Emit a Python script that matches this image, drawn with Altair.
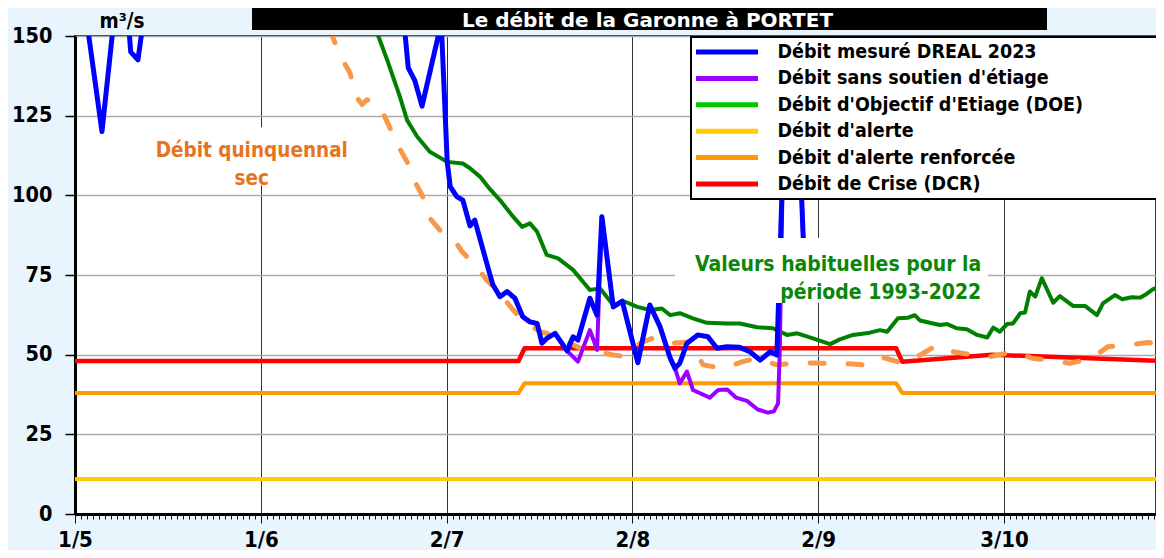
import json
import altair as alt
import pandas as pd

FONT = "DejaVu Sans Condensed, DejaVu Sans"

# ---------------- axis / categories ----------------
# x positions are days counted from 1 May 2023
tick_days = [0, 31, 62, 93, 124, 155]
tick_labels = ["1/5", "1/6", "2/7", "2/8", "2/9", "3/10"]
x_domain = [0, 180.35]
y_ticks = [0, 25, 50, 75, 100, 125, 150]

series_names = [
    "Débit mesuré DREAL 2023",
    "Débit sans soutien d'étiage",
    "Débit d'Objectif d'Etiage (DOE)",
    "Débit d'alerte",
    "Débit d'alerte renforcée",
    "Débit de Crise (DCR)",
]
legend_colors = ["#0000FF", "#9900FF", "#00C800", "#FFCC00", "#FF9900", "#FF0000"]

# ---------------- series ----------------
mesure_days = [0.0, 2.3, 4.5, 6.2, 7.5, 9.0, 9.3, 10.5, 11.2, 12.5, 17.5, 25.9, 37.5, 47.5, 54.2,
               55.1, 55.6, 56.7, 57.9, 60.6, 60.9, 61.2, 62.1, 62.6, 63.7, 64.7, 65.9, 66.7, 68.4,
               69.7, 70.9, 72.1, 73.4, 74.7, 75.9, 77.1, 77.9, 78.7, 80.1, 82.1, 83.1, 83.9, 85.9,
               87.1, 87.9, 89.8, 91.3, 93.9, 95.9, 97.6, 99.3, 100.1, 100.9, 102.1, 103.9, 105.6,
               107.1, 108.8, 110.9, 112.6, 114.3, 116.0, 117.1, 118.1, 118.6, 120.5, 121.0, 121.5]
mesure_vals = [185, 150, 120, 150, 168, 152, 145, 142.5, 152, 172, 200, 215, 195, 175, 160,
               150, 140, 136, 128, 150, 153, 150, 110.5, 102.7, 99.6, 98.5, 90.4, 92.2, 80.7,
               72, 68.2, 69.8, 67.7, 61.9, 60.3, 59.8, 53.6, 55.1, 56.7, 51.2, 55.6, 54.6, 67.7,
               62.4, 93.3, 65, 66.8, 47.5, 65.6, 58.8, 48.9, 45.7, 47.3, 53.6, 56.2, 55.6,
               52, 52.5, 52.3, 50.9, 48.3, 50.9, 49.9, 110, 165, 170, 110, 86.5]

sans_soutien_days = [80.1, 82.1, 83.9, 85.9, 87.1, 87.9, 89.8, 91.3, 93.9, 95.9, 97.6, 99.3, 100.1,
                     100.9, 102.1, 103.1, 105.9, 107.3, 108.8, 110.3, 112.1, 113.9, 115.6, 116.6,
                     117.3, 117.6, 118.1, 118.6, 120.5, 121.0, 121.5]
sans_soutien_vals = [56.7, 51.2, 47.8, 57.7, 51.5, 93.3, 65, 66.8, 47.5, 65.6, 58.8, 48.9, 45.7,
                     41, 44.7, 38.9, 36.5, 38.9, 39.1, 36.5, 35.5, 32.8, 31.8, 32.2,
                     34.7, 52.5, 110, 165, 170, 110, 86.5]

doe_days = [0, 20.9, 37.5, 45.9, 49.2, 50.6, 52.1, 54.2, 55.4, 57.1, 59.2, 62.1, 64.7, 65.9, 67.6,
            69.2, 70.9, 73.1, 74.6, 75.9, 77.1, 78.7, 80.6, 83.1, 85.9, 87.6, 89.8, 91.8, 93.8,
            95.9, 97.9, 99.3, 100.9, 103.1, 105.4, 108.8, 110.9, 113.8, 116.4, 118.8, 120.5,
            123.1, 126.0, 127.6, 129.8, 132.6, 134.3, 135.5, 137.3, 139.0, 140.1, 141.0, 142.6,
            144.3, 145.5, 147.1, 148.8, 150.5, 152.2, 153.2, 154.3, 155.5, 156.5, 157.7, 158.5,
            159.3, 160.2, 161.3, 163.2, 164.3, 166.5, 168.5, 170.5, 171.5, 173.5, 174.7, 176.3,
            177.7, 178.5, 179.8, 181.0, 182.7]
doe_vals = [260, 210, 180, 162, 155, 150, 142.4, 131, 123.6, 118.4, 113.7, 110.5, 110, 108.5, 105.8,
            102, 98.5, 93.3, 90.1, 91.2, 88.6, 81.3, 80.2, 76.6, 70.3, 70.8, 65.6, 66.6, 65,
            64, 64.5, 62.4, 63, 61.4, 60, 59.8, 59.8, 58.6, 58.3, 56.2, 56.7,
            55.1, 53.3, 54.8, 56.2, 56.9, 57.7, 57.2, 61.4, 61.6, 62.4, 60.7, 60,
            59.3, 59.6, 58.3, 58, 56.2, 55.4, 58.5, 57.2, 59.6, 59.8, 63, 63.2,
            69.8, 68.2, 74, 66.3, 68.4, 65.3, 65.3, 62.4, 66.1, 68.7, 67.4, 68,
            67.9, 68.7, 70.5, 71.5, 70.8]

alerte_days = [0, 182.7]
alerte_vals = [11, 11]

renforcee_days = [0, 74, 75, 137, 138, 182.7]
renforcee_vals = [38, 38, 41, 41, 38, 38]

crise_days = [0, 74, 75, 137, 138, 153, 182.7]
crise_vals = [48, 48, 52, 52, 47.8, 50, 47.9]

quinq_days = [42.5, 44.2, 45.9, 46.9, 47.9, 48.7, 50.9, 52.2, 53.7, 55.4, 56.4, 57.9, 59.2, 60.9,
              63.1, 64.6, 67.1, 68.7, 70.9, 73.1, 75.4, 77.6, 79.7, 82.1, 84.3, 87.1, 89.8, 91.8,
              94.3, 96.8, 99.6, 102.6, 104.8, 108.1, 111.4, 113.8, 117.1, 121.0, 124.3, 127.6,
              131.5, 134.3, 138.1, 141.0, 143.8, 146.5, 149.8, 152.7, 156.5, 159.7, 162.7, 166.0,
              169.7, 172.3, 175.7, 179.0, 182.7]
quinq_vals = [152, 144, 138.3, 131, 128.5, 130, 127.8, 122.6, 116.3, 110.5, 105.3, 100.1, 92.8, 89,
              86.5, 82.3, 77.3, 73.4, 69.2, 64, 59.8, 57.2, 56.2, 54.1, 52, 50.9, 49.9, 49.4,
              53.6, 55.5, 53.6, 54, 46.8, 45.7, 47.8, 48.9, 46.8, 47.5, 47.3, 47.3,
              46.8, 49.4, 47.3, 49.9, 53, 50.9, 49.9, 49.4, 50.9, 48.9, 48.3, 47.3,
              48.9, 52.5, 53, 53.8, 53]

# ---------------- annotations ----------------
title_text = "Le débit de la Garonne à PORTET"
note1_text = "Débit quinquennal\nsec"
note1_day, note1_val = 29.5, 112.0
note2_text = "Valeurs habituelles pour la\npériode 1993-2022"
note2_day, note2_val = 151.2, 76.2
box_day0 = [11.7, 100.1]
box_day1 = [47.2, 152.3]
box_val0 = [121.4, 86.6]
box_val1 = [103.2, 66.2]

# ---------------- encodings ----------------
month_days = json.dumps(tick_days)
is_month = f"indexof({month_days}, datum.value) >= 0"
label_expr = f"{is_month} ? {json.dumps(tick_labels)}[indexof({month_days}, datum.value)] : ''"

x_scale = alt.Scale(domain=x_domain, nice=False, zero=False)
y_scale = alt.Scale(domain=[0, 150], nice=False, zero=False)

x_axis = alt.Axis(
    values=list(range(0, 181)), labelExpr=label_expr, labelOverlap=False, labelFlush=False,
    title=None, labelFont=FONT, labelFontSize=22, labelFontWeight="bold", labelColor="black",
    labelBaseline="alphabetic", labelPadding=23,
    tickSize={"condition": {"test": is_month, "value": 9}, "value": 5},
    tickColor="#111111", tickWidth=1,
    grid=True, gridColor="#333333", gridWidth=1,
    gridOpacity={"condition": {"test": is_month, "value": 1}, "value": 0},
    domainColor="black", domainWidth=3,
)
y_axis = alt.Axis(
    values=y_ticks, title="m³/s", titleAngle=0, titleX=46.5, titleY=-9, titleAlign="center",
    titleBaseline="alphabetic", titleFont=FONT, titleFontSize=20.5, titleFontWeight="bold",
    titleColor="black", labelFont=FONT, labelFontSize=21.5, labelFontWeight="bold",
    labelColor="black", labelPadding=13, tickSize=10, tickColor="black", tickWidth=1.5,
    domainColor="black", domainWidth=3, grid=True, gridColor="#ABABAB", gridWidth=1.5,
)

X = alt.X("day:Q", scale=x_scale, axis=x_axis)
Y = alt.Y("value:Q", scale=y_scale, axis=y_axis)


def line_layer(days, vals, color, width, dash=None):
    df = pd.DataFrame({"day": days, "value": vals})
    kw = dict(color=color, strokeWidth=width, clip=True, strokeJoin="round")
    if dash:
        kw.update(strokeDash=dash, strokeCap="round")
    return alt.Chart(df).mark_line(**kw).encode(x=X, y=Y)


alerte = line_layer(alerte_days, alerte_vals, "#FFCC00", 4)
renforcee = line_layer(renforcee_days, renforcee_vals, "#FF9900", 4)
crise = line_layer(crise_days, crise_vals, "#FF0000", 4.5)
doe = line_layer(doe_days, doe_vals, "#008000", 4)
quinq = line_layer(quinq_days, quinq_vals, "#F7984A", 5, dash=[14, 24])
sans_soutien = line_layer(sans_soutien_days, sans_soutien_vals, "#9900FF", 4)
mesure = line_layer(mesure_days, mesure_vals, "#0000FF", 5)

legend_def = alt.Legend(
    orient="none", legendX=616, legendY=1, title=None,
    symbolType="stroke", symbolSize=4096, symbolStrokeWidth=5,
    clipHeight=20, rowPadding=6.4, padding=5, symbolOffset=-4.5, labelOffset=17,
    labelFont=FONT, labelFontSize=19.5, labelFontWeight="bold", labelColor="black",
    labelLimit=2000, labelExpr="pad(datum.label, 42, '\u00a0') + '\u200b'",
    fillColor="white", strokeColor="black",
)
legend_df = pd.DataFrame({"series": series_names, "day": [0.0] * 6, "value": [-50.0] * 6})
legend_layer = alt.Chart(legend_df).mark_line(strokeWidth=5, clip=True).encode(
    x=X, y=Y,
    color=alt.Color("series:N", scale=alt.Scale(domain=series_names, range=legend_colors),
                    legend=legend_def),
)

box_df = pd.DataFrame({"d0": box_day0, "d1": box_day1, "v0": box_val0, "v1": box_val1})
boxes = alt.Chart(box_df).mark_rect(color="white").encode(
    x=alt.X("d0:Q", scale=x_scale, axis=x_axis), x2="d1:Q",
    y=alt.Y("v0:Q", scale=y_scale, axis=y_axis), y2="v1:Q",
)

note1 = alt.Chart(pd.DataFrame({"day": [note1_day], "value": [note1_val], "t": [note1_text]})).mark_text(
    font=FONT, fontSize=20.5, fontWeight="bold", color="#E8731F", align="center",
    baseline="alphabetic", lineBreak="\n", lineHeight=27.5,
).encode(x=X, y=Y, text="t:N")

note2 = alt.Chart(pd.DataFrame({"day": [note2_day], "value": [note2_val], "t": [note2_text]})).mark_text(
    font=FONT, fontSize=21, fontWeight="bold", color="#0A860A", align="right",
    baseline="alphabetic", lineBreak="\n", lineHeight=27.5,
).encode(x=X, y=Y, text="t:N")

title_df = pd.DataFrame({"t": [title_text]})
title_box = alt.Chart(title_df).mark_rect(color="black").encode(
    x=alt.value(177), x2=alt.value(972), y=alt.value(-40), y2=alt.value(-6))
title_lbl = alt.Chart(title_df).mark_text(
    font="DejaVu Sans", fontSize=20, fontWeight="bold", color="white", align="center",
    baseline="alphabetic",
).encode(x=alt.value(572.5), y=alt.value(-9.5), text="t:N")

chart = alt.layer(
    alerte, renforcee, crise, doe, quinq, sans_soutien, mesure, legend_layer,
    boxes, note1, note2, title_box, title_lbl,
).properties(
    width=1081, height=478,
    padding={"left": 67, "top": 28, "right": 0, "bottom": 36},
    autosize=alt.AutoSizeParams(type="none"),
    background="#E9F5FD",
).configure_view(
    fill="white", stroke="#333333", strokeWidth=2,
).configure_legend(
    strokeWidth=2,
)

chart.save("out.html", embed_options={"renderer": "svg", "actions": False})
